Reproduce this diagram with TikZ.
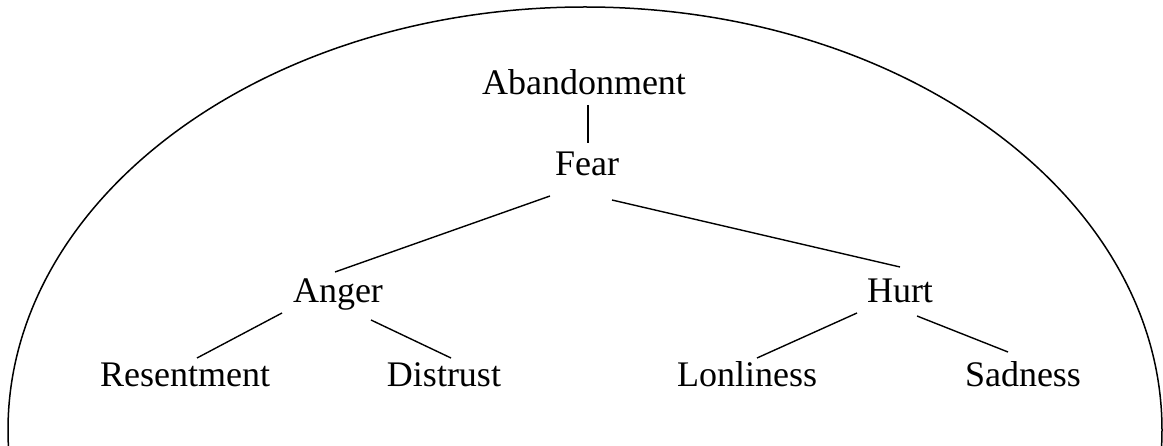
\documentclass[tikz,border=0pt]{standalone}
\usepackage{fontspec}
\setmainfont{Liberation Serif}
\begin{document}
\begin{tikzpicture}[x=1pt,y=-1pt,
  lbl/.style={anchor=base,inner sep=0pt,font=\fontsize{36}{40}\selectfont},
  edge/.style={line width=1.4pt,black}]
\useasboundingbox (0,0) rectangle (1163,446);
\begin{scope}
  \clip (0,0) rectangle (1163,446);
  \draw[line width=1.5pt] (585,430) ellipse [x radius=577, y radius=423];
\end{scope}
\node[lbl] (aband) at (584,95) {Abandonment};
\node[lbl] (fear) at (587,176) {Fear};
\node[lbl] (anger) at (338,303) {Anger};
\node[lbl] (hurt) at (900,303) {Hurt};
\node[lbl] (resent) at (185,387) {Resentment};
\node[lbl] (distrust) at (444,387) {Distrust};
\node[lbl] (lonli) at (747,387) {Lonliness};
\node[lbl] (sad) at (1023,387) {Sadness};
\draw[edge] ([shift={(4,10)}]aband.base) -- ([shift={(1,-33)}]fear.base);
\draw[edge] ([shift={(-37,20)}]fear.base) -- ([shift={(-3,-31)}]anger.base);
\draw[edge] ([shift={(25,24)}]fear.base) -- ([shift={(0,-36)}]hurt.base);
\draw[edge] ([shift={(-56,10)}]anger.base) -- ([shift={(12,-29)}]resent.base);
\draw[edge] ([shift={(33,17)}]anger.base) -- ([shift={(7,-29)}]distrust.base);
\draw[edge] ([shift={(-43,10)}]hurt.base) -- ([shift={(10,-29)}]lonli.base);
\draw[edge] ([shift={(17,13)}]hurt.base) -- ([shift={(-15,-35)}]sad.base);
\end{tikzpicture}
\end{document}
